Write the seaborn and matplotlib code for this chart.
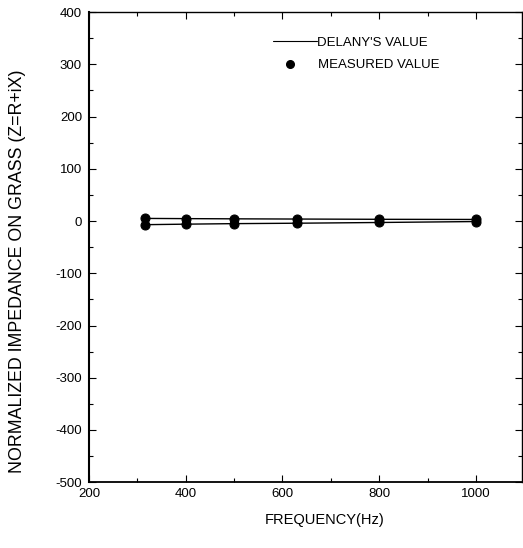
import matplotlib
matplotlib.use("Agg")
import matplotlib.pyplot as plt
import seaborn as sns
import pandas as pd
from matplotlib.ticker import MultipleLocator
from matplotlib.lines import Line2D

frequency = [315, 400, 500, 630, 800, 1000]
resistance = [5.0, 4.6, 4.2, 3.8, 3.3, 3.0]
reactance = [-7.0, -6.0, -5.0, -4.2, -2.8, -1.0]

sns.set_theme(style="white")
plt.rcParams['font.family'] = ['Liberation Sans', 'DejaVu Sans']
plt.rcParams['axes.unicode_minus'] = False
plt.rcParams['text.color'] = 'black'
plt.rcParams['axes.labelcolor'] = 'black'
plt.rcParams['xtick.color'] = 'black'
plt.rcParams['ytick.color'] = 'black'

df = pd.DataFrame({
    "freq": frequency * 2,
    "value": resistance + reactance,
    "part": ["R"] * len(frequency) + ["X"] * len(frequency),
})

fig = plt.figure(figsize=(5.23, 5.48), dpi=100)
ax = fig.add_axes([0.170, 0.120, 0.828, 0.858])

sns.lineplot(data=df, x="freq", y="value", units="part", estimator=None,
             color="black", linewidth=1.0, marker="o", markersize=6.5,
             markeredgecolor="black", markerfacecolor="black", ax=ax, legend=False)

ax.set_xlim(200, 1095)
ax.set_ylim(-500, 400)
ax.xaxis.set_major_locator(MultipleLocator(200))
ax.xaxis.set_minor_locator(MultipleLocator(100))
ax.yaxis.set_major_locator(MultipleLocator(100))
ax.yaxis.set_minor_locator(MultipleLocator(50))
ax.tick_params(which="both", direction="in", top=True, right=True,
               bottom=True, left=True, color="black", labelsize=9.5)
ax.tick_params(which="major", length=5, width=0.8)
ax.tick_params(which="minor", length=3, width=0.8)
ax.tick_params(axis="x", pad=4)
ax.tick_params(axis="y", pad=5)
for s in ax.spines.values():
    s.set_color("black")
    s.set_linewidth(1.0)
ax.spines["left"].set_linewidth(1.5)
ax.spines["bottom"].set_linewidth(1.3)

ax.set_xlabel("FREQUENCY(Hz)", fontsize=10.5)
ax.set_ylabel("NORMALIZED IMPEDANCE ON GRASS (Z=R+iX)", fontsize=12.8)
ax.xaxis.set_label_coords(0.545, -0.081)
ax.yaxis.set_label_coords(-0.166, 0.449)
ax.xaxis.label.set_verticalalignment("center")
ax.yaxis.label.set_verticalalignment("center")

leg1 = ax.legend([Line2D([], [], color="black", linewidth=0.8)], ["DELANY'S VALUE"],
                 loc="upper left", bbox_to_anchor=(0.424, 0.948), frameon=False,
                 fontsize=9.5, handlelength=3.4, handletextpad=0.0,
                 borderaxespad=0, borderpad=0)
ax.add_artist(leg1)
ax.legend([Line2D([], [], color="black", linestyle="none", marker="o", markersize=5.5)],
          ["MEASURED VALUE"], loc="upper left", bbox_to_anchor=(0.439, 0.900),
          frameon=False, fontsize=9.5, handlelength=1.6, handletextpad=1.33,
          borderaxespad=0, borderpad=0)

fig.savefig("out.png", dpi=100)
